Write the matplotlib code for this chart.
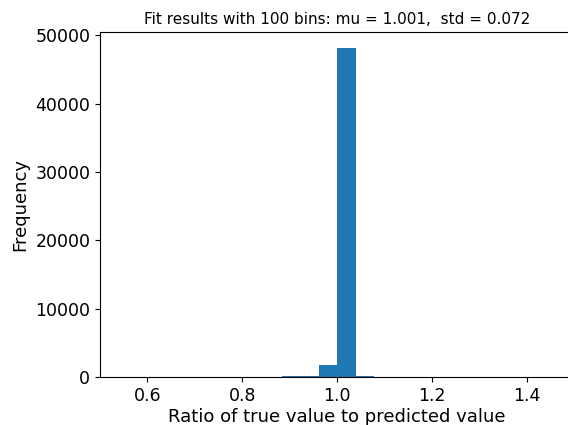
import matplotlib
matplotlib.use('Agg')
import matplotlib.pyplot as plt
import numpy as np

# bin edges and counts (only bins inside the view)
bin_edges = [0.884, 0.923, 0.962, 1.001, 1.040, 1.079]
counts = [150, 180, 1760, 48100, 180]

title = 'Fit results with 100 bins: mu = 1.001,  std = 0.072'
xlabel = 'Ratio of true value to predicted value'
ylabel = 'Frequency'

W, H = 568, 425
fig = plt.figure(figsize=(W / 100, H / 100), dpi=100)
# axes runs a bit past the right edge, like a cropped saved figure
ax = fig.add_axes([100 / W, 48 / H, 474 / W, 345 / H])

centers = [(a + b) / 2 for a, b in zip(bin_edges[:-1], bin_edges[1:])]
ax.hist(centers, bins=bin_edges, weights=counts, color='#1f77b4')

ax.set_xlim(0.5, 1.5)
ax.set_xticks([0.6, 0.8, 1.0, 1.2, 1.4])
ax.set_yticks([0, 10000, 20000, 30000, 40000, 50000])
ax.tick_params(labelsize=12.5)
ax.set_title(title, fontsize=11)
ax.set_xlabel(xlabel, fontsize=13, labelpad=2)
ax.set_ylabel(ylabel, fontsize=13)

fig.savefig('out.png', dpi=100)
